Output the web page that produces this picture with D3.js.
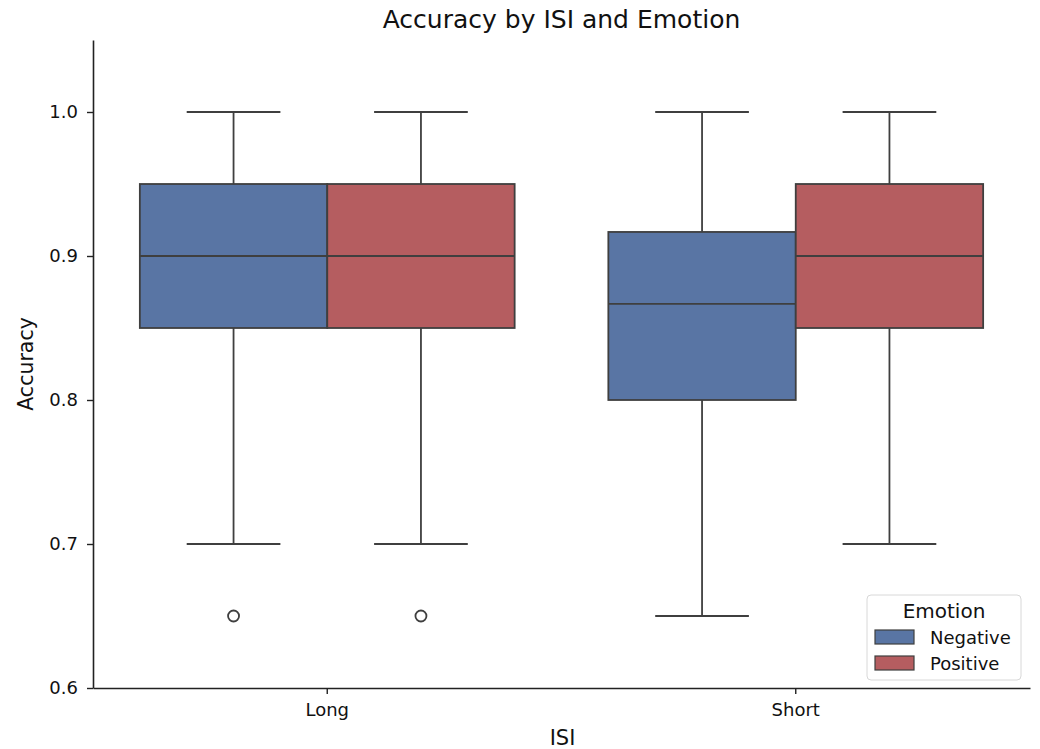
<!DOCTYPE html>
<html>
<head>
<meta charset="utf-8">
<script src="https://cdn.jsdelivr.net/npm/d3@7"></script>
<style>
  body { margin: 0; background: #fff; }
  text { font-family: "DejaVu Sans", sans-serif; fill: #111; }
</style>
</head>
<body>
<div id="chart"></div>
<script>
// data
var isiGroups = ["Long", "Short"];
var emotions = ["Negative", "Positive"];
var yTicks = [0.6, 0.7, 0.8, 0.9, 1.0];
// five-number summaries per [isi][emotion]
var whiskerLow = [[0.70, 0.70], [0.65, 0.70]];
var q1 = [[0.85, 0.85], [0.80, 0.85]];
var median = [[0.90, 0.90], [0.8667, 0.90]];
var q3 = [[0.95, 0.95], [0.9167, 0.95]];
var whiskerHigh = [[1.0, 1.0], [1.0, 1.0]];
var outliers = [[[0.65], [0.65]], [[], []]];

var colors = ["#5975a4", "#b55d60"];
var lineColor = "#3f3f3f";

var W = 1040, H = 749;
var margin = {top: 40, right: 10, bottom: 61, left: 93},
    width = W - margin.left - margin.right,
    height = H - margin.top - margin.bottom;

var svg = d3.select("#chart")
  .append("svg")
    .attr("width", W)
    .attr("height", H)
  .append("g")
    .attr("transform", "translate(" + margin.left + "," + margin.top + ")");

var x = d3.scaleBand()
    .domain(isiGroups)
    .range([0, width]);
var xHue = d3.scaleBand()
    .domain(emotions)
    .range([0, x.bandwidth() * 0.8]);
var y = d3.scaleLinear()
    .domain([0.6, 1.05])
    .range([height, 0]);

var boxes = [];
isiGroups.forEach(function(g, i) {
  emotions.forEach(function(e, j) {
    boxes.push({g: g, e: e, i: i, j: j});
  });
});

var bw = xHue.bandwidth();
function bx(d) { return x(d.g) + x.bandwidth() * 0.1 + xHue(d.e); }

var bg = svg.selectAll(".box")
  .data(boxes)
  .enter().append("g")
    .attr("class", "box");

// whiskers
bg.append("line")
    .attr("x1", function(d) { return bx(d) + bw / 2; })
    .attr("x2", function(d) { return bx(d) + bw / 2; })
    .attr("y1", function(d) { return y(whiskerLow[d.i][d.j]); })
    .attr("y2", function(d) { return y(q1[d.i][d.j]); })
    .attr("stroke", lineColor).attr("stroke-width", 1.8);
bg.append("line")
    .attr("x1", function(d) { return bx(d) + bw / 2; })
    .attr("x2", function(d) { return bx(d) + bw / 2; })
    .attr("y1", function(d) { return y(q3[d.i][d.j]); })
    .attr("y2", function(d) { return y(whiskerHigh[d.i][d.j]); })
    .attr("stroke", lineColor).attr("stroke-width", 1.8);
// caps
[whiskerLow, whiskerHigh].forEach(function(arr) {
  bg.append("line")
      .attr("x1", function(d) { return bx(d) + bw / 4; })
      .attr("x2", function(d) { return bx(d) + bw * 3 / 4; })
      .attr("y1", function(d) { return y(arr[d.i][d.j]); })
      .attr("y2", function(d) { return y(arr[d.i][d.j]); })
      .attr("stroke", lineColor).attr("stroke-width", 1.8);
});

bg.append("rect")
    .attr("x", bx)
    .attr("width", bw)
    .attr("y", function(d) { return y(q3[d.i][d.j]); })
    .attr("height", function(d) { return y(q1[d.i][d.j]) - y(q3[d.i][d.j]); })
    .attr("fill", function(d) { return colors[d.j]; })
    .attr("stroke", lineColor).attr("stroke-width", 1.8);

bg.append("line")
    .attr("x1", bx)
    .attr("x2", function(d) { return bx(d) + bw; })
    .attr("y1", function(d) { return y(median[d.i][d.j]); })
    .attr("y2", function(d) { return y(median[d.i][d.j]); })
    .attr("stroke", lineColor).attr("stroke-width", 1.8);

bg.selectAll("circle")
  .data(function(d) { return outliers[d.i][d.j].map(function(v) { return {v: v, d: d}; }); })
  .enter().append("circle")
    .attr("cx", function(o) { return bx(o.d) + bw / 2; })
    .attr("cy", function(o) { return y(o.v); })
    .attr("r", 5.5)
    .attr("fill", "none")
    .attr("stroke", lineColor).attr("stroke-width", 1.8);

// axes
var xAxis = svg.append("g")
    .attr("transform", "translate(0," + height + ")")
    .call(d3.axisBottom(x).tickSize(6).tickPadding(9).tickSizeOuter(0));
var yAxis = svg.append("g")
    .call(d3.axisLeft(y).tickValues(yTicks).tickFormat(d3.format(".1f")).tickSize(6).tickPadding(9).tickSizeOuter(0));
[xAxis, yAxis].forEach(function(a) {
  a.select(".domain").attr("stroke", "#222").attr("stroke-width", 1.6);
  a.selectAll(".tick line").attr("stroke", "#222").attr("stroke-width", 1.4);
  a.selectAll(".tick text").attr("font-size", "18px").attr("fill", "#222")
    .attr("font-family", "DejaVu Sans, sans-serif");
});

// labels
svg.append("text")
    .attr("x", width / 2)
    .attr("y", -12)
    .attr("text-anchor", "middle")
    .attr("font-size", "25px")
    .text("Accuracy by ISI and Emotion");
svg.append("text")
    .attr("x", width / 2 + 1)
    .attr("y", height + 57)
    .attr("text-anchor", "middle")
    .attr("font-size", "21px")
    .text("ISI");
svg.append("text")
    .attr("transform", "translate(" + (-60) + "," + (y(0.825)) + ") rotate(-90)")
    .attr("text-anchor", "middle")
    .attr("font-size", "20.5px")
    .text("Accuracy");

// legend
var lg = svg.append("g")
    .attr("transform", "translate(" + (867 - margin.left) + "," + (595 - margin.top) + ")");
lg.append("rect")
    .attr("width", 154).attr("height", 85)
    .attr("rx", 4)
    .attr("fill", "#fff").attr("fill-opacity", 0.8)
    .attr("stroke", "#d8d8d8");
lg.append("text")
    .attr("x", 77).attr("y", 23)
    .attr("text-anchor", "middle")
    .attr("font-size", "20px")
    .text("Emotion");
emotions.forEach(function(e, j) {
  lg.append("rect")
      .attr("x", 8).attr("y", 35 + j * 26)
      .attr("width", 39).attr("height", 14)
      .attr("fill", colors[j])
      .attr("stroke", lineColor).attr("stroke-width", 1.2);
  lg.append("text")
      .attr("x", 63).attr("y", 49 + j * 26)
      .attr("font-size", "18px")
      .text(e);
});
</script>
</body>
</html>
